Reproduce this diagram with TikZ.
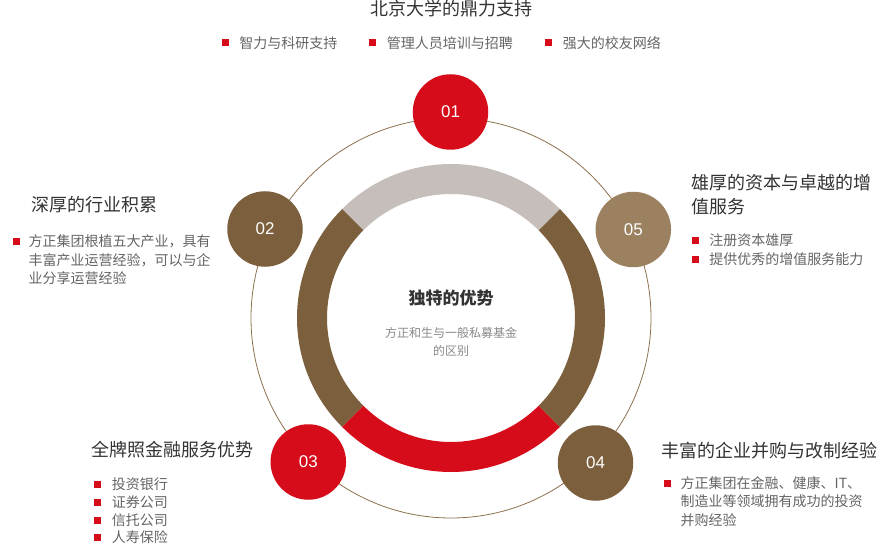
\documentclass[tikz,border=0pt]{standalone}
\usepackage{fontspec}
\setmainfont{Noto Sans CJK SC}
\newfontfamily\numfont{Liberation Sans}
\usepackage{tikz}
\usetikzlibrary{positioning, calc}

\definecolor{fzRed}{RGB}{214,12,26}
\definecolor{dBrown}{RGB}{124,95,60}
\definecolor{lBrown}{RGB}{155,129,96}
\definecolor{ringGray}{RGB}{197,190,187}
\definecolor{lineBrown}{RGB}{140,112,78}
\definecolor{headGray}{RGB}{51,51,51}
\definecolor{bodyGray}{RGB}{100,100,100}
\definecolor{subGray}{RGB}{136,136,136}

\begin{document}
\begin{tikzpicture}[x=1pt, y=1pt,
    numdot/.style={circle, minimum size=75.5pt, inner sep=0, text=white, font=\numfont\fontsize{17}{20}\selectfont},
    sq/.style={fill=fzRed, minimum size=7pt, inner sep=0},
    headtxt/.style={anchor=west, inner sep=0, text=headGray, font=\fontsize{18}{23.4}\selectfont},
    bodytxt/.style={anchor=west, inner sep=0, text=bodyGray, font=\fontsize{14}{18.3}\selectfont}]

    \useasboundingbox (0,0) rectangle (890,-545);

    % Thin orbit
    \coordinate (ctr) at (451,-318);
    \draw[lineBrown, line width=0.8pt] (ctr) circle[radius=200];

    % Ring segments
    \fill[ringGray] ($(ctr)+(45:154)$) arc[start angle=45, end angle=135, radius=154] -- ($(ctr)+(135:124)$) arc[start angle=135, end angle=45, radius=124] -- cycle;
    \fill[dBrown] ($(ctr)+(135:154)$) arc[start angle=135, end angle=225, radius=154] -- ($(ctr)+(225:124)$) arc[start angle=225, end angle=135, radius=124] -- cycle;
    \fill[fzRed] ($(ctr)+(225:154)$) arc[start angle=225, end angle=315, radius=154] -- ($(ctr)+(315:124)$) arc[start angle=315, end angle=225, radius=124] -- cycle;
    \fill[dBrown] ($(ctr)+(-45:154)$) arc[start angle=-45, end angle=45, radius=154] -- ($(ctr)+(45:124)$) arc[start angle=45, end angle=-45, radius=124] -- cycle;

    % Centre text
    \node[inner sep=0, text=headGray, font=\bfseries\fontsize{17}{20}\selectfont] (core) at (451,-298) {独特的优势};
    \node[inner sep=0, anchor=north, align=center, text=subGray, font=\fontsize{12}{18.3}\selectfont] (coreSub) at (451,-326.7) {方正和生与一般私募基金\\的区别};

    % Numbered dots
    \node[numdot, fill=fzRed] (c1) at (450.5,-112) {01};
    \node[numdot, fill=dBrown] (c2) at (265,-229) {02};
    \node[numdot, fill=fzRed] (c3) at (308.3,-462) {03};
    \node[numdot, fill=dBrown] (c4) at (595.5,-463) {04};
    \node[numdot, fill=lBrown] (c5) at (633.3,-229.5) {05};

    % 01 - top
    \node[inner sep=0, text=headGray, font=\fontsize{18}{22}\selectfont] (h1) at (451,-9) {北京大学的鼎力支持};
    \node[sq] (b1a) at (225.5,-43) {};
    \node[bodytxt, right=10pt of b1a] (d1a) {智力与科研支持};
    \node[sq] (b1b) at (372.5,-43) {};
    \node[bodytxt, right=10.5pt of b1b] (d1b) {管理人员培训与招聘};
    \node[sq] (b1c) at (548.5,-43) {};
    \node[bodytxt, right=10.5pt of b1c] (d1c) {强大的校友网络};

    % 02 - left
    \node[headtxt] (h2) at (31,-205) {深厚的行业积累};
    \node[sq] (b2) at (16.5,-241) {};
    \node[bodytxt, anchor=north west, align=left] (d2) at (28.5,-234.7) {方正集团根植五大产业，具有\\丰富产业运营经验，可以与企\\业分享运营经验};

    % 05 - right
    \node[headtxt, anchor=north west, align=left] (h5) at (691,-174.3) {雄厚的资本与卓越的增\\值服务};
    \node[sq] (b5a) at (695,-240) {};
    \node[bodytxt, right=10.5pt of b5a] (d5a) {注册资本雄厚};
    \node[sq] (b5b) at (695,-259) {};
    \node[bodytxt, right=10.5pt of b5b] (d5b) {提供优秀的增值服务能力};

    % 03 - bottom left
    \node[headtxt] (h3) at (91.5,-450) {全牌照金融服务优势};
    \node[sq] (b3a) at (97.5,-484.3) {};
    \node[bodytxt, right=10.5pt of b3a] (d3a) {投资银行};
    \node[sq] (b3b) at (97.5,-502) {};
    \node[bodytxt, right=10.5pt of b3b] (d3b) {证券公司};
    \node[sq] (b3c) at (97.5,-520) {};
    \node[bodytxt, right=10.5pt of b3c] (d3c) {信托公司};
    \node[sq] (b3d) at (97.5,-537.5) {};
    \node[bodytxt, right=10.5pt of b3d] (d3d) {人寿保险};

    % 04 - bottom right
    \node[headtxt] (h4) at (661.5,-450.5) {丰富的企业并购与改制经验};
    \node[sq] (b4) at (667,-483.3) {};
    \node[bodytxt, anchor=north west, align=left] (d4) at (680.5,-476.3) {方正集团在金融、健康、IT、\\制造业等领域拥有成功的投资\\并购经验};

\end{tikzpicture}
\end{document}
